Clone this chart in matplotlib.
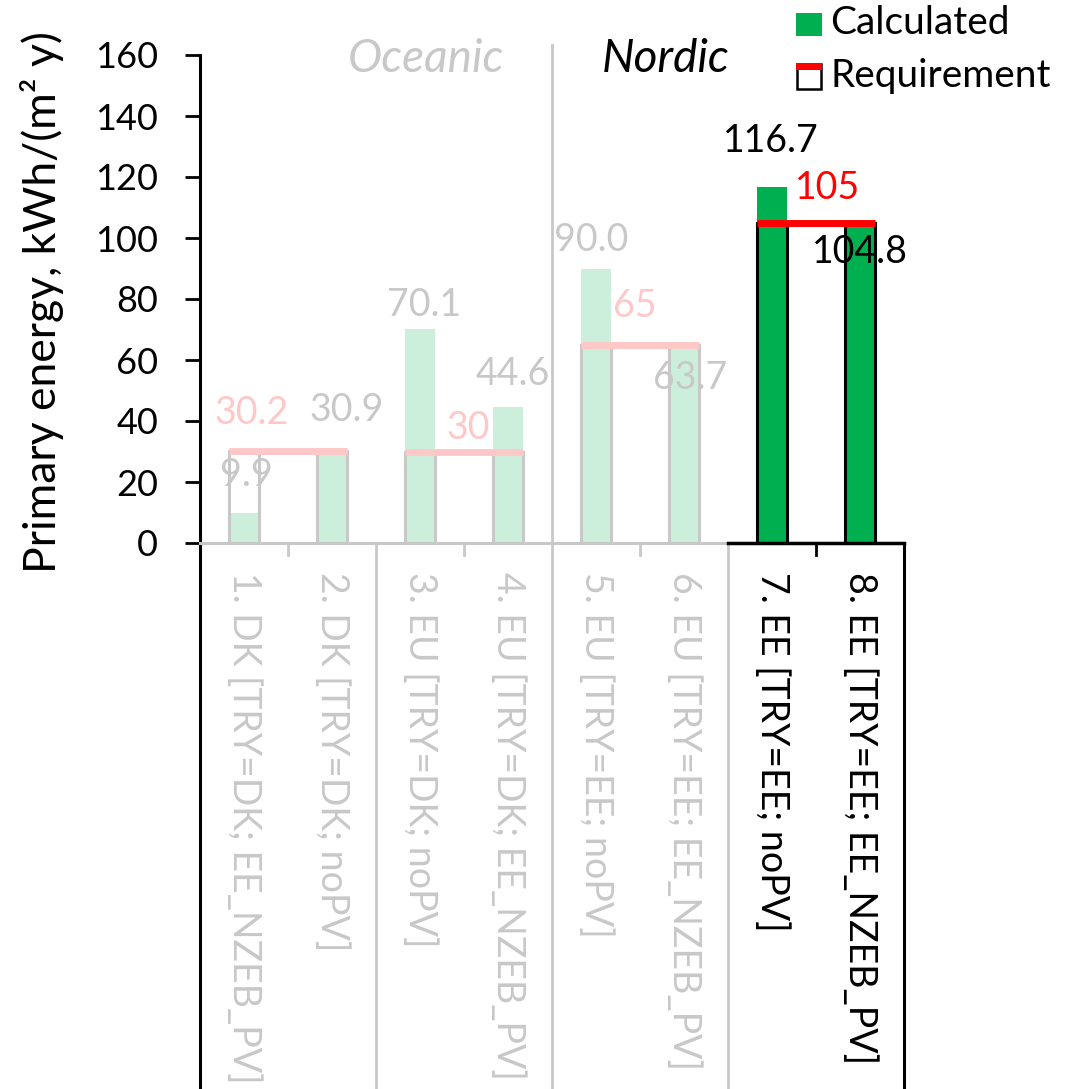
import numpy as np
import matplotlib
matplotlib.use("Agg")
import matplotlib.pyplot as plt
from matplotlib.patches import Rectangle

plt.rcParams['font.family'] = ['Lato', 'DejaVu Sans']

# scenarios and results
categories = ["1. DK [TRY=DK; EE_NZEB_PV]", "2. DK [TRY=DK; noPV]",
              "3. EU [TRY=DK; noPV]", "4. EU [TRY=DK; EE_NZEB_PV]",
              "5. EU [TRY=EE; noPV]", "6. EU [TRY=EE; EE_NZEB_PV]",
              "7. EE [TRY=EE; noPV]", "8. EE [TRY=EE; EE_NZEB_PV]"]
calculated = [9.9, 30.9, 70.1, 44.6, 90.0, 63.7, 116.7, 104.8]
requirement = [30.2, 30.2, 30, 30, 65, 65, 105, 105]
req_labels = ["30.2", "30", "65", "105"]
highlight = [False, False, False, False, False, False, True, True]
yticks = [0, 20, 40, 60, 80, 100, 120, 140, 160]

# label placement (data coords)
calc_lbl_pos = [(0.03, 22.3), (1.17, 43.6), (2.05, 78.0), (3.05, 55.4),
                (3.94, 99.3), (5.07, 54.1), (5.99, 131.8), (7.0, 95.4)]
req_lbl_pos = [(0.09, 42.6), (2.55, 37.7), (4.44, 77.7), (6.63, 116.4)]

green = "#00b050"
green_lt = "#ccefdc"
red = "#ff0000"
red_lt = "#ffc8c8"
grey = "#c8c8c8"

W, H = 1066, 1089
fig = plt.figure(figsize=(W / 100, H / 100), dpi=100)
ax = fig.add_axes([200 / W, 1 - 543 / H, 704 / W, 488 / H])

x = np.arange(len(categories))
w = 0.33
ax.bar(x, calculated, w, color=[green if h else green_lt for h in highlight], zorder=2)
ax.bar(x, requirement, w, facecolor="none",
       edgecolor=["black" if h else grey for h in highlight], linewidth=2.2, zorder=3)

# requirement line over each pair
for g in range(4):
    i0, i1 = 2 * g, 2 * g + 1
    c = red if highlight[i0] else red_lt
    ax.plot([i0 - w / 2, i1 + w / 2], [requirement[i0]] * 2, color=c, lw=5,
            solid_capstyle="butt", zorder=4)
    ax.text(req_lbl_pos[g][0], req_lbl_pos[g][1], req_labels[g], color=c,
            fontsize=27, ha="center", va="center", zorder=6)

for i, v in enumerate(calculated):
    ax.text(calc_lbl_pos[i][0], calc_lbl_pos[i][1], f"{v:.1f}",
            color="black" if highlight[i] else grey, fontsize=27,
            ha="center", va="center", zorder=6)

ax.set_xlim(-0.5, 7.5)
ax.set_ylim(0, 160)
ax.set_yticks(yticks)
ax.set_xticks([])
ax.tick_params(axis="y", length=11, width=2, labelsize=26, pad=19)
for s in ["top", "right"]:
    ax.spines[s].set_visible(False)
ax.spines["left"].set_linewidth(2.2)
ax.spines["bottom"].set_color(grey)
ax.spines["bottom"].set_linewidth(2.2)

# category table below the axis
trans = ax.get_xaxis_transform()
bot = -1.13
ax.plot([5.5, 7.5], [0, 0], color="black", lw=2.5, transform=trans, clip_on=False, zorder=5)
ax.plot([-0.5, -0.5], [0, bot], color="black", lw=2.2, transform=trans, clip_on=False)
ax.plot([7.5, 7.5], [0, bot], color="black", lw=2.2, transform=trans, clip_on=False)
for xs in [1.5, 5.5]:
    ax.plot([xs, xs], [0, bot], color=grey, lw=2, transform=trans, clip_on=False)
ax.plot([3.5, 3.5], [bot, 1.02], color=grey, lw=2, transform=trans, clip_on=False)
for xs in [0.5, 2.5, 4.5, 6.5]:
    ax.plot([xs, xs], [0, -0.025], color="black" if xs > 6 else grey, lw=2,
            transform=trans, clip_on=False)

for i, cat in enumerate(categories):
    ax.text(i, -0.06, cat, transform=trans, rotation=-90, ha="center", va="top",
            fontsize=27, color="black" if highlight[i] else grey)

ax.text(2.07, 0.992, "Oceanic", transform=trans, ha="center", va="center",
        fontsize=33, style="italic", color=grey)
ax.text(4.79, 0.992, "Nordic", transform=trans, ha="center", va="center",
        fontsize=33, style="italic", color="black")

fig.text(42 / W, 1 - 302 / H, "Primary energy, kWh/(m² y)", rotation=90,
         ha="center", va="center", fontsize=32)

# legend
fig.add_artist(Rectangle((796 / W, 1 - 36 / H), 26 / W, 23 / H, facecolor=green,
                         edgecolor="none", transform=fig.transFigure))
fig.text(830 / W, 1 - 23 / H, "Calculated", fontsize=28, ha="left", va="center")
fig.add_artist(Rectangle((797 / W, 1 - 89 / H), 24 / W, 25 / H, facecolor="white",
                         edgecolor="black", lw=1.8, transform=fig.transFigure))
fig.add_artist(Rectangle((796 / W, 1 - 70 / H), 26 / W, 7 / H, facecolor=red,
                         edgecolor="none", transform=fig.transFigure))
fig.text(830 / W, 1 - 76 / H, "Requirement", fontsize=28, ha="left", va="center")

fig.savefig("out.png", dpi=100)
